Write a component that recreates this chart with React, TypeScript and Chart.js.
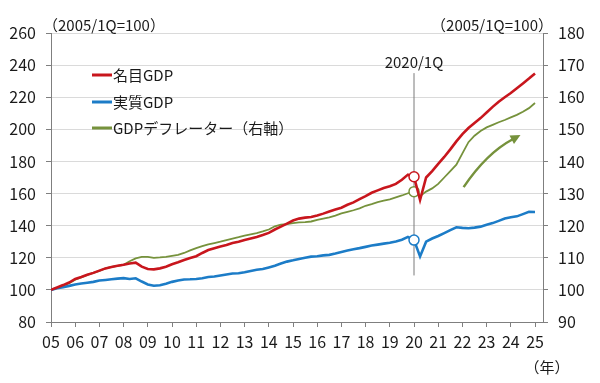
import React, { useEffect, useRef } from 'react';
import { Chart, registerables } from 'chart.js';

Chart.register(...registerables);

// ---- data ----
const startYear = 2005;
const yearTickLabels = ['05','06','07','08','09','10','11','12','13','14','15','16','17','18','19','20','21','22','23','24','25'];
const seriesNames = ['名目GDP', '実質GDP', 'GDPデフレーター（右軸）'];

const nominalGDP = [
  100.0, 101.5, 103.0, 104.6,
  106.8, 108.0, 109.4, 110.6,
  112.0, 113.4, 114.3, 115.0,
  115.6, 116.4, 117.0, 114.5,
  113.0, 112.8, 113.4, 114.4,
  116.0, 117.2, 118.6, 119.8,
  121.0, 123.0, 124.8, 126.0,
  127.0, 128.0, 129.2, 130.0,
  131.0, 132.0, 133.0, 134.2,
  135.5, 137.6, 139.4, 141.3,
  143.2, 144.4, 145.0, 145.4,
  146.4, 147.5, 148.8, 150.0,
  151.2, 153.0, 154.5, 156.5,
  158.4, 160.5, 162.0, 163.5,
  164.5, 166.0, 168.6, 171.8,
  170.5, 156.0, 170.0, 174.0,
  178.5, 182.8, 187.5, 192.5,
  197.0, 200.8, 204.0, 207.0,
  210.5, 214.0, 217.2, 220.0,
  222.6, 225.6, 228.6, 231.6,
  234.8,
];

const realGDP = [
  100.0, 101.0, 101.7, 102.5,
  103.4, 104.0, 104.5, 105.0,
  105.8, 106.2, 106.6, 107.0,
  107.3, 106.8, 107.2, 105.2,
  103.4, 102.6, 102.9, 103.8,
  105.0, 105.8, 106.5, 106.6,
  106.8, 107.3, 108.0, 108.3,
  109.0, 109.6, 110.2, 110.4,
  111.0, 111.8, 112.5, 113.0,
  114.0, 115.0, 116.4, 117.6,
  118.4, 119.3, 120.0, 120.7,
  121.0, 121.5, 121.8, 122.6,
  123.6, 124.5, 125.3, 126.0,
  126.8, 127.6, 128.2, 128.8,
  129.4, 130.2, 131.2, 133.0,
  131.0, 120.8, 130.0, 132.0,
  133.6, 135.4, 137.2, 139.0,
  138.6, 138.4, 138.8, 139.4,
  140.6, 141.6, 143.0, 144.4,
  145.2, 145.8, 147.2, 148.6,
  148.5,
];

const gdpDeflator = [
  100.0, 100.6, 101.3, 102.1,
  103.2, 103.9, 104.7, 105.3,
  105.9, 106.7, 107.2, 107.5,
  107.8, 108.9, 109.8, 110.3,
  110.3, 110.0, 110.1, 110.3,
  110.6, 110.9, 111.5, 112.3,
  113.0, 113.6, 114.2, 114.6,
  115.0, 115.5, 116.0, 116.4,
  116.9, 117.3, 117.7, 118.2,
  118.8, 119.8, 120.3, 120.5,
  120.8, 121.0, 121.1, 121.3,
  121.8, 122.2, 122.6, 123.1,
  123.8, 124.3, 124.8, 125.4,
  126.2, 126.7, 127.3, 127.8,
  128.2, 128.8, 129.4, 130.1,
  130.6, 129.2, 130.6, 131.6,
  133.0, 135.0, 137.0, 139.0,
  142.5, 146.0, 148.0, 149.5,
  150.6, 151.4, 152.2, 152.9,
  153.7, 154.5, 155.5, 156.6,
  158.2,
];

const markLabel = '2020/1Q';
const markIndex = 60; // 2020 Q1
const markLineRange = [109, 235]; // left-axis values
const arrowPath = [ // right-axis values
  { x: 2022.05, y: 132.0 },
  { x: 2023.0, y: 142.6 },
  { x: 2024.4, y: 148.2 },
];

const colors = ['#C8161D', '#1C7CC7', '#76923C'];
const FONT = '"Noto Sans CJK JP", "Noto Sans", sans-serif';

const toPoints = (arr: number[]) => arr.map((v, i) => ({ x: startYear + i / 4, y: v }));

const overlayPlugin = {
  id: 'overlay',
  beforeDatasetsDraw(chart: any) {
    const { ctx, scales } = chart;
    const x = scales.x, y = scales.y;
    const px = x.getPixelForValue(startYear + markIndex / 4);
    ctx.save();
    ctx.strokeStyle = '#7a7a7a';
    ctx.lineWidth = 1;
    ctx.beginPath();
    ctx.moveTo(px, y.getPixelForValue(markLineRange[1]));
    ctx.lineTo(px, y.getPixelForValue(markLineRange[0]));
    ctx.stroke();
    ctx.restore();
  },
  afterDraw(chart: any) {
    const { ctx, scales } = chart;
    const x = scales.x, y1 = scales.y1;
    ctx.save();
    ctx.fillStyle = '#1a1a1a';
    // axis unit labels
    ctx.font = `15px ${FONT}`;
    ctx.textBaseline = 'middle';
    ctx.textAlign = 'left';
    ctx.fillText('（2005/1Q=100）', 43, 25);
    ctx.textAlign = 'right';
    ctx.fillText('（2005/1Q=100）', 553, 25);
    // year label
    ctx.font = `15px ${FONT}`;
    ctx.textAlign = 'center';
    ctx.fillText('（年）', 547, 367);
    // mark label
    const px = x.getPixelForValue(startYear + markIndex / 4);
    ctx.fillText(markLabel, px, 62);
    // legend
    const rows = [75, 102, 128];
    chart.data.datasets.forEach((ds: any, i: number) => {
      ctx.strokeStyle = ds.borderColor;
      ctx.lineWidth = 3;
      ctx.beginPath();
      ctx.moveTo(92, rows[i]);
      ctx.lineTo(112, rows[i]);
      ctx.stroke();
      ctx.fillStyle = '#1a1a1a';
      ctx.textAlign = 'left';
      ctx.font = `15px ${FONT}`;
      ctx.fillText(ds.label, 113, rows[i]);
    });
    // arrow
    const p0 = { x: x.getPixelForValue(arrowPath[0].x), y: y1.getPixelForValue(arrowPath[0].y) };
    const pc = { x: x.getPixelForValue(arrowPath[1].x), y: y1.getPixelForValue(arrowPath[1].y) };
    const p2 = { x: x.getPixelForValue(arrowPath[2].x), y: y1.getPixelForValue(arrowPath[2].y) };
    const ang = Math.atan2(p2.y - pc.y, p2.x - pc.x);
    const head = 11;
    const base = { x: p2.x - Math.cos(ang) * head * 0.8, y: p2.y - Math.sin(ang) * head * 0.8 };
    ctx.strokeStyle = colors[2];
    ctx.fillStyle = colors[2];
    ctx.lineWidth = 2.5;
    ctx.beginPath();
    ctx.moveTo(p0.x, p0.y);
    ctx.quadraticCurveTo(pc.x, pc.y, base.x, base.y);
    ctx.stroke();
    ctx.beginPath();
    ctx.moveTo(p2.x, p2.y);
    ctx.lineTo(p2.x - Math.cos(ang - 0.45) * head, p2.y - Math.sin(ang - 0.45) * head);
    ctx.lineTo(p2.x - Math.cos(ang + 0.45) * head, p2.y - Math.sin(ang + 0.45) * head);
    ctx.closePath();
    ctx.fill();
    ctx.restore();
  },
};

export default function App() {
  const ref = useRef<HTMLCanvasElement | null>(null);
  useEffect(() => {
    if (!ref.current) return;
    const markRadius = (c: any) => (c.dataIndex === markIndex ? 5 : 0);
    const mk = (label: string, data: number[], color: string, width: number, axis: string) => ({
      label,
      data: toPoints(data),
      borderColor: color,
      backgroundColor: color,
      borderWidth: width,
      yAxisID: axis,
      pointRadius: markRadius,
      pointHoverRadius: markRadius,
      pointBorderColor: color,
      pointBackgroundColor: '#ffffff',
      pointBorderWidth: 1.5,
      tension: 0,
      fill: false,
    });
    const chart = new Chart(ref.current, {
      type: 'line',
      data: {
        datasets: [
          mk(seriesNames[0], nominalGDP, colors[0], 2.6, 'y'),
          mk(seriesNames[1], realGDP, colors[1], 2.6, 'y'),
          mk(seriesNames[2], gdpDeflator, colors[2], 1.8, 'y1'),
        ],
      },
      options: {
        animation: false,
        responsive: false,
        devicePixelRatio: 1,
        layout: { padding: { top: 33, left: 0, right: 0, bottom: 0 } },
        plugins: { legend: { display: false }, tooltip: { enabled: false } },
        events: [],
        scales: {
          x: {
            type: 'linear',
            min: startYear,
            max: 2025.33,
            afterBuildTicks: (s: any) => {
              s.ticks = yearTickLabels.map((_, i) => ({ value: startYear + i }));
            },
            afterFit: (s: any) => { s.height = 61; },
            ticks: {
              autoSkip: false,
              maxRotation: 0,
              padding: 5,
              color: '#1a1a1a',
              font: { family: FONT, size: 16 },
              callback: (v: any, i: number) => yearTickLabels[i],
            },
            grid: { drawOnChartArea: false, tickLength: 5, tickColor: '#7f7f7f', color: '#7f7f7f' },
            border: { color: '#7f7f7f', width: 1 },
          },
          y: {
            position: 'left',
            min: 80,
            max: 260,
            ticks: { stepSize: 20, padding: 10, color: '#1a1a1a', font: { family: FONT, size: 16 } },
            afterFit: (s: any) => { s.width = 51; },
            grid: { color: '#dadada', tickColor: '#7f7f7f', tickLength: 5, lineWidth: 1 },
            border: { color: '#7f7f7f', width: 1 },
          },
          y1: {
            position: 'right',
            min: 90,
            max: 180,
            ticks: { stepSize: 10, padding: 10, color: '#1a1a1a', font: { family: FONT, size: 16 } },
            afterFit: (s: any) => { s.width = 57; },
            grid: { drawOnChartArea: false, tickColor: '#7f7f7f', tickLength: 5 },
            border: { color: '#7f7f7f', width: 1 },
          },
        },
      },
      plugins: [overlayPlugin],
    } as any);
    return () => chart.destroy();
  }, []);
  return (
    <div style={{ position: 'fixed', left: 0, top: 0, width: 600, height: 383, background: '#fff' }}>
      <canvas ref={ref} width={600} height={383} style={{ display: 'block' }} />
    </div>
  );
}
